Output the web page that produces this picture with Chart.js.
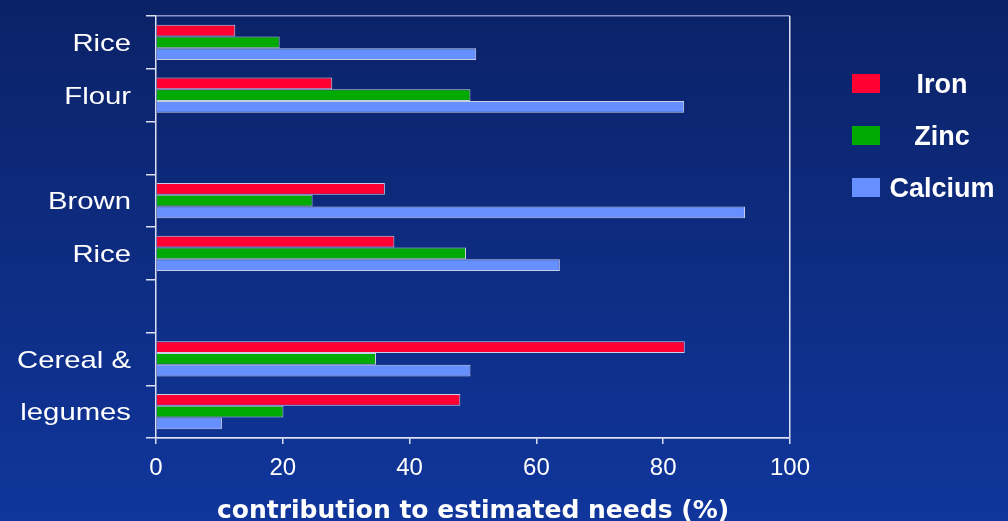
<!DOCTYPE html>
<html><head><meta charset="utf-8">
<script src="https://cdn.jsdelivr.net/npm/chart.js@4.4.1/dist/chart.umd.min.js"></script>
<style>
html,body{margin:0;padding:0;background:#0d2a80;overflow:hidden;}
#wrap{position:relative;width:1008px;height:521px;}
</style>
</head><body>
<div id="wrap"><canvas id="c"></canvas></div>
<script>
// ---- data ----
const categories = ['Rice', 'Flour', '', 'Brown', 'Rice', '', 'Cereal &', 'legumes'];
const ironValues    = [12.5, 27.8, null, 36.1, 37.6, null, 83.4, 48.0];
const zincValues    = [19.5, 49.6, null, 24.7, 48.9, null, 34.7, 20.1];
const calciumValues = [50.5, 83.3, null, 92.9, 63.7, null, 49.6, 10.4];
const seriesNames = ['Iron', 'Zinc', 'Calcium'];
const xTickValues = [0, 20, 40, 60, 80, 100];
const xTitle = 'contribution to estimated needs (%)';

// ---- styles ----
const seriesColors = ['#ff0033', '#00aa00', '#6690ff'];
const barBorder = 'rgba(232,235,252,0.85)';
const axisCol = '#dcdff2';
const topCol = '#8a93c8';
const sansFamily = '"Liberation Sans", Arial, Helvetica, sans-serif';

const bgPlugin = {
  id: 'bg',
  beforeDraw(chart) {
    const ctx = chart.ctx;
    const g = ctx.createLinearGradient(0, 0, 0, chart.height);
    g.addColorStop(0, '#0b2267');
    g.addColorStop(1, '#10369c');
    ctx.save();
    ctx.fillStyle = g;
    ctx.fillRect(0, 0, chart.width, chart.height);
    ctx.restore();
    // stretch y labels horizontally like the source
    const s = chart.scales.y;
    if (s && !s.__wrapped) {
      const orig = s.drawLabels;
      s.drawLabels = function (area) {
        const c = this.ctx;
        const ax = this.right - 10 - 15;
        c.save();
        c.translate(ax, 2);
        c.scale(1.22, 1);
        c.translate(-ax, 0);
        orig.call(this, area);
        c.restore();
      };
      s.__wrapped = true;
    }
  }
};

const legendPlugin = {
  id: 'sideLegend',
  afterDraw(chart) {
    const ctx = chart.ctx;
    ctx.save();
    chart.data.datasets.forEach((ds, i) => {
      const y = 74 + i * 52;
      ctx.fillStyle = ds.backgroundColor;
      ctx.fillRect(852, y, 28, 19);
      ctx.fillStyle = '#ffffff';
      ctx.font = 'bold 27px ' + sansFamily;
      ctx.textAlign = 'center';
      ctx.textBaseline = 'middle';
      ctx.fillText(ds.label, 942, y + 12);
    });
    ctx.restore();
  }
};

const seriesData = [ironValues, zincValues, calciumValues];

new Chart(document.getElementById('c'), {
  type: 'bar',
  data: {
    labels: categories,
    datasets: seriesNames.map((n, i) => ({
      label: n,
      data: seriesData[i],
      backgroundColor: seriesColors[i],
      borderColor: barBorder,
      borderWidth: 1,
      categoryPercentage: 0.67,
      barPercentage: 1.0
    }))
  },
  options: {
    indexAxis: 'y',
    responsive: true,
    maintainAspectRatio: false,
    animation: false,
    devicePixelRatio: 1,
    layout: { padding: { top: 16, right: 218, left: 0, bottom: 0 } },
    plugins: { legend: { display: false }, tooltip: { enabled: false } },
    scales: {
      y: {
        type: 'category',
        grid: {
          offset: true,
          color: c => (c.type !== 'tick') ? axisCol : (c.index === 0 ? topCol : 'transparent'),
          tickColor: axisCol,
          tickLength: 10,
          lineWidth: 1.5
        },
        border: { display: true, color: axisCol, width: 1.5 },
        ticks: {
          color: '#ffffff',
          font: { family: sansFamily, size: 24 },
          padding: 15,
          autoSkip: false
        },
        afterFit(s) { s.width = 156; s.paddingTop = 0; s.paddingBottom = 0; }
      },
      x: {
        type: 'linear',
        min: xTickValues[0],
        max: xTickValues[xTickValues.length - 1],
        grid: {
          color: c => (c.tick && c.tick.value === 100) ? axisCol : 'transparent',
          tickColor: axisCol,
          tickLength: 6,
          lineWidth: 1.5
        },
        border: { display: true, color: axisCol, width: 1.5 },
        ticks: {
          color: '#ffffff',
          font: { family: sansFamily, size: 24 },
          padding: 10
        },
        afterBuildTicks(s) { s.ticks = xTickValues.map(v => ({ value: v })); },
        title: {
          display: true,
          text: xTitle,
          color: '#ffffff',
          font: { family: '"DejaVu Sans", sans-serif', weight: 'bold', size: 25, lineHeight: 0.8 },
          padding: 0
        },
        afterFit(s) { s.height = 83; }
      }
    }
  },
  plugins: [bgPlugin, legendPlugin]
});
</script>
</body></html>
